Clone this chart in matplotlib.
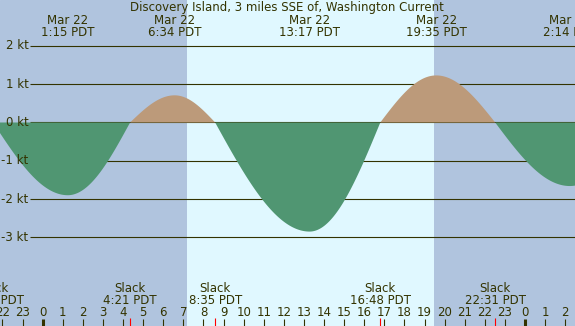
import numpy as np
import matplotlib
matplotlib.use("Agg")
import matplotlib.pyplot as plt
from matplotlib.transforms import blended_transform_factory

# Events (hours from midnight Mar 22, PDT) and current speed in knots
event_hours = [-2.467, 1.25, 4.35, 6.567, 8.583, 13.283, 16.8, 19.583, 22.517, 26.233, 29.6]
event_speeds = [0.0, -1.90, 0.0, 0.71, 0.0, -2.85, 0.0, 1.23, 0.0, -1.66, 0.0]

# Top labels (max flood / ebb)
max_hours = [1.25, 6.567, 13.283, 19.583, 26.233]
max_labels = ["1:15 PDT", "6:34 PDT", "13:17 PDT", "19:35 PDT", "2:14 PDT"]

# Bottom labels (slack water)
slack_hours = [-2.467, 4.35, 8.583, 16.8, 22.517]
slack_labels = ["21:32 PDT", "4:21 PDT", "8:35 PDT", "16:48 PDT", "22:31 PDT"]

kt_levels = [2, 1, 0, -1, -2, -3]
sunrise, sunset = 7.18, 19.47

title = "Discovery Island, 3 miles SSE of, Washington Current"

night_col = "#B0C4DE"
day_col = "#E0F8FF"
ebb_col = "#509672"
flood_col = "#BC9A7A"
ink = "#333300"
fs = 8.5

W, H = 575, 326
px_per_h = 20.097
x0_px = 42.67
px_per_kt = 38.27
y0_px = 122.5


def hx(px):
    # pixel x -> hours
    return (px - x0_px) / px_per_h


def ky(py):
    # pixel y -> knots
    return (y0_px - py) / px_per_kt


def yf(py):
    # pixel y -> axes fraction
    return 1 - py / H


def current_curve(t):
    # quarter sine waves between slack and max events
    v = np.zeros_like(t)
    for i in range(len(event_hours) - 1):
        t0, t1 = event_hours[i], event_hours[i + 1]
        v0, v1 = event_speeds[i], event_speeds[i + 1]
        m = (t >= t0) & (t <= t1)
        u = (t[m] - t0) / (t1 - t0)
        if v0 == 0:
            v[m] = v1 * np.sin(np.pi / 2 * u)
        else:
            v[m] = v0 * np.cos(np.pi / 2 * u)
    return v


fig = plt.figure(figsize=(W / 100, H / 100), dpi=100)
ax = fig.add_axes([0, 0, 1, 1])
ax.set_xlim(hx(0), hx(W))
ax.set_ylim(ky(H), ky(0))
ax.axis("off")
ax.add_patch(plt.Rectangle((0, 0), 1, 1, transform=ax.transAxes, color=night_col, zorder=0))
ax.axvspan(sunrise, sunset, color=day_col, zorder=0.5, lw=0)

# grid lines + labels
for k in kt_levels:
    ax.hlines(k, hx(30), hx(W + 5), color=ink, lw=0.8, zorder=1)
    ax.text(hx(28.5), k, "%d kt" % k, ha="right", va="center", fontsize=fs, color=ink, zorder=3)

t = np.linspace(hx(-5), hx(W + 5), 2000)
v = current_curve(t)
ax.fill_between(t, v, 0, where=v <= 0, interpolate=True, color=ebb_col, lw=0, zorder=2)
ax.fill_between(t, v, 0, where=v >= 0, interpolate=True, color=flood_col, lw=0, zorder=2)

tr = blended_transform_factory(ax.transData, ax.transAxes)

ax.text(hx(287), yf(10.7), title, ha="center", va="baseline", fontsize=fs, color=ink, transform=tr)
for h, lab in zip(max_hours, max_labels):
    ax.text(h, yf(24), "Mar 22", ha="center", va="baseline", fontsize=fs, color=ink, transform=tr)
    ax.text(h, yf(36.5), lab, ha="center", va="baseline", fontsize=fs, color=ink, transform=tr)

for h, lab in zip(slack_hours, slack_labels):
    ax.text(h, yf(291.7), "Slack", ha="center", va="baseline", fontsize=fs, color=ink, transform=tr)
    ax.text(h, yf(304.5), lab, ha="center", va="baseline", fontsize=fs, color=ink, transform=tr)
    ax.vlines(h, ky(318), ky(H), color="red", lw=0.8, zorder=3)

# hour ticks
for h in range(-2, 27):
    lw = 2.2 if h % 24 == 0 else 0.8
    ax.vlines(h, ky(319), ky(H), color=ink, lw=lw, zorder=3)
    ax.text(h, yf(315.7), str(h % 24), ha="center", va="baseline", fontsize=fs, color=ink, transform=tr)

fig.savefig("out.png", dpi=100)
